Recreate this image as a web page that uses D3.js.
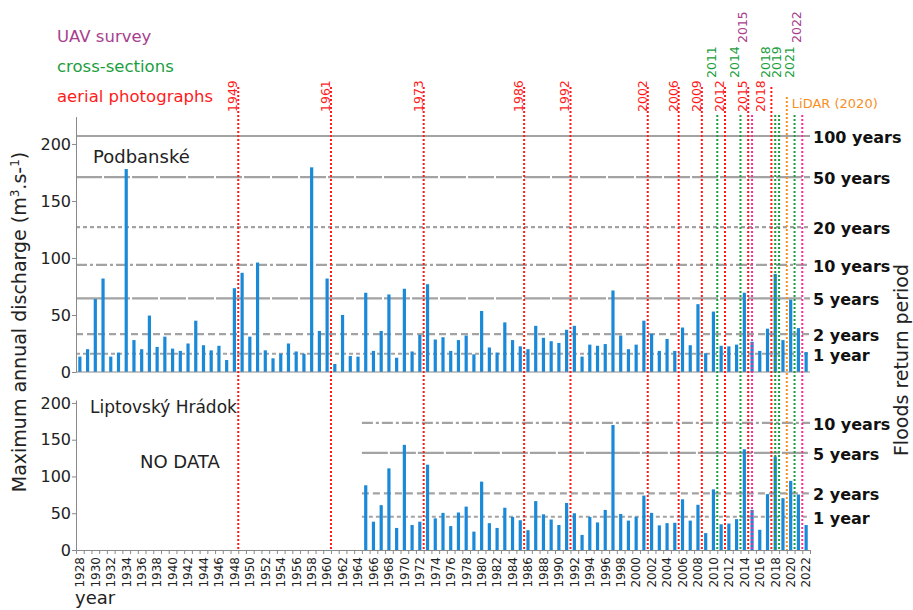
<!DOCTYPE html>
<html>
<head>
<meta charset="utf-8">
<script src="https://cdn.jsdelivr.net/npm/d3@7"></script>
<style>
  html, body { margin: 0; padding: 0; background: #fff; }
  svg { display: block; font-family: "DejaVu Sans", Verdana, sans-serif; }
</style>
</head>
<body>
<script>
// ---- Data -------------------------------------------------------------
const firstYear = 1928;
const lastYear = 2022;
const years = d3.range(firstYear, lastYear + 1);

// Maximum annual discharge, Podbanské (m3/s), 1928–2022
const podbanske = [
  13.5, 20, 64, 82, 13.5, 17, 178, 28, 20, 49.5,
  22, 31, 20.5, 18.5, 25, 45, 23.5, 19, 23, 10.5,
  73.5, 87, 31, 96, 19, 12, 16, 25, 18, 16,
  179.5, 36, 82, 7, 50, 14, 13.5, 69.5, 18.5, 36,
  68, 12.5, 73, 18, 32.5, 77, 28.5, 30.5, 18.5, 28,
  32, 15.5, 53.5, 21.5, 17, 43.5, 28, 22.5, 20, 40.5,
  30, 27, 25.5, 37, 40.5, 13.5, 24, 23, 24.5, 71.5,
  32, 20, 24, 45, 33.5, 18.5, 29, 18.5, 39, 23.5,
  59.5, 16.5, 53, 23, 22.5, 24, 69.5, 26.5, 18.5, 38,
  86, 28, 63.5, 38.5, 17.5
];

// Maximum annual discharge, Liptovský Hrádok (m3/s), 1965–2022
const liptovskyFirstYear = 1965;
const liptovsky = [
  88, 38.5, 61, 111, 30, 143, 34, 38.5, 116, 43,
  50.5, 32.5, 51, 59, 25, 93, 36.5, 30, 57.5, 45,
  40.5, 27, 66.5, 48.5, 41.5, 34, 64, 50, 20.5, 45,
  37.5, 54.5, 170, 49, 40, 45, 74, 50.5, 33.5, 36.5,
  37, 69, 40, 61.5, 23, 82.5, 35, 36, 42, 137,
  54.5, 27.5, 76, 127, 70.5, 94, 75.5, 34
];

// Flood discharges for return periods
const podbanskePeriods = ["100 years", "50 years", "20 years", "10 years", "5 years", "2 years", "1 year"];
const podbanskePeriodQ = [207, 171, 127, 94, 64.5, 33.3, 16];
const liptovskyPeriods = ["10 years", "5 years", "2 years", "1 year"];
const liptovskyPeriodQ = [172.8, 132, 77, 45.2];

// Survey years
const aerialYears = [1949, 1961, 1973, 1986, 1992, 2002, 2006, 2009, 2012, 2015, 2018];
const crossSectionYears = [2011, 2014, 2018, 2019, 2021];
const uavYears = [2015, 2022];
const lidarYears = [2020];

const yTicks = [0, 50, 100, 150, 200];

// ---- Layout -----------------------------------------------------------
const W = 913, H = 610;
const left = 76, right = 810;
const svg = d3.select("body").append("svg").attr("width", W).attr("height", H);

const x = d3.scaleBand().domain(years).range([left, right]).padding(0);
const xEdge = d3.scaleLinear().domain([firstYear, lastYear + 1]).range([left, right]);
const bw = 3.2;

const yTop = d3.scaleLinear().domain([0, 224]).range([372, 116.6]);
const yBot = d3.scaleLinear().domain([0, 204]).range([550, 400]);

const gray = "#a3a3a3";
const axisColor = "#8a8a8a";
const barColor = "#1a8ad8";

const periodStyle = {
  "100 years": { dash: null },
  "50 years": { dash: "26,2" },
  "20 years": { dash: "4,3" },
  "10 years": { dash: "11,3,3,3" },
  "5 years": { dash: "26,2" },
  "2 years": { dash: "7,4" },
  "1 year": { dash: "4,3" }
};

// ---- Return-period lines ----------------------------------------------
function periodLines(labels, values, y, x0) {
  const g = svg.append("g");
  labels.forEach((lab, i) => {
    const yy = y(values[i]);
    g.append("line")
      .attr("x1", x0).attr("x2", right)
      .attr("y1", yy).attr("y2", yy)
      .attr("stroke", gray).attr("stroke-width", 2.2)
      .attr("stroke-dasharray", periodStyle[lab].dash);
    g.append("text")
      .attr("x", right + 3).attr("y", yy + 7)
      .attr("font-size", 16).attr("font-weight", "bold").attr("fill", "#111")
      .text(lab);
  });
}
periodLines(podbanskePeriods, podbanskePeriodQ, yTop, left);
periodLines(liptovskyPeriods, liptovskyPeriodQ, yBot, x(liptovskyFirstYear));

// ---- Bars -------------------------------------------------------------
svg.append("g").selectAll("rect")
  .data(years.map((yr, i) => ({ yr, v: podbanske[i] })))
  .join("rect")
  .attr("x", d => x(d.yr) + x.bandwidth() / 2 - bw / 2)
  .attr("width", bw)
  .attr("y", d => yTop(d.v))
  .attr("height", d => yTop(0) - yTop(d.v))
  .attr("fill", barColor);

svg.append("g").selectAll("rect")
  .data(liptovsky.map((v, i) => ({ yr: liptovskyFirstYear + i, v })))
  .join("rect")
  .attr("x", d => x(d.yr) + x.bandwidth() / 2 - bw / 2)
  .attr("width", bw)
  .attr("y", d => yBot(d.v))
  .attr("height", d => yBot(0) - yBot(d.v))
  .attr("fill", barColor);

// ---- Axes -------------------------------------------------------------
function yAxis(y) {
  const g = svg.append("g").attr("transform", `translate(${left},0)`)
    .call(d3.axisLeft(y).tickValues(yTicks).tickSize(4).tickSizeOuter(0).tickPadding(1));
  g.select(".domain").attr("stroke", axisColor);
  g.selectAll(".tick line").attr("stroke", axisColor);
  g.selectAll(".tick text").attr("font-size", 16).attr("fill", "#222")
    .attr("font-family", "DejaVu Sans, Verdana, sans-serif");
}
yAxis(yTop);
yAxis(yBot);

// category axis lines
svg.append("line").attr("x1", left).attr("x2", right)
  .attr("y1", yTop(0)).attr("y2", yTop(0)).attr("stroke", axisColor);

const xTicks = svg.append("g").attr("transform", `translate(0,${yBot(0)})`)
  .call(d3.axisBottom(xEdge).tickValues(d3.range(firstYear, lastYear + 2)).tickFormat("").tickSize(4).tickSizeOuter(0));
xTicks.select(".domain").attr("stroke", axisColor);
xTicks.selectAll(".tick line").attr("stroke", axisColor);

const xLabels = svg.append("g").attr("transform", `translate(0,${yBot(0)})`)
  .call(d3.axisBottom(x).tickValues(years.filter(d => d % 2 === 0)).tickSize(0));
xLabels.select(".domain").remove();
xLabels.selectAll(".tick text")
  .attr("transform", "rotate(-90)")
  .attr("text-anchor", "end")
  .attr("x", -7).attr("y", 0).attr("dy", "0.36em")
  .attr("font-size", 12).attr("fill", "#222")
  .attr("font-family", "DejaVu Sans, Verdana, sans-serif");

// ---- Survey lines -----------------------------------------------------
const groups = [
  { name: "aerial photographs", years: aerialYears, line: "#ff1a1a", text: "#ff1a1a", top: 87, labelY: 112, legendY: 102 },
  { name: "cross-sections", years: crossSectionYears, line: "#1b9e3e", text: "#1b9e3e", top: 115, labelY: 78, legendY: 72 },
  { name: "UAV survey", years: uavYears, line: "#ff2a98", text: "#a8408e", top: 115, labelY: 43, legendY: 42 }
];
const labelNudge = { "aerial photographs-2018": -5 };
const used = new Set();

groups.forEach(g => {
  const gl = svg.append("g");
  let lastLabelX = -Infinity;
  g.years.forEach(yr => {
    let lx = x(yr);
    if (used.has(yr)) lx += x.bandwidth() / 2;
    used.add(yr);
    gl.append("line")
      .attr("x1", lx).attr("x2", lx).attr("y1", g.top).attr("y2", yBot(0))
      .attr("stroke", g.line).attr("stroke-width", 2).attr("stroke-dasharray", "2,2");
    let tx = x(yr) - 1 + (labelNudge[g.name + "-" + yr] || 0);
    tx = Math.max(tx, lastLabelX + 11);
    lastLabelX = tx;
    gl.append("text")
      .attr("transform", `translate(${tx},${g.labelY}) rotate(-90)`)
      .attr("font-size", 12.5).attr("fill", g.text)
      .text(yr);
  });
  svg.append("text").attr("x", 57).attr("y", g.legendY)
    .attr("font-size", 16.5).attr("fill", g.text).text(g.name);
});

// LiDAR
lidarYears.forEach(yr => {
  const lx = x(yr);
  svg.append("line")
    .attr("x1", lx).attr("x2", lx).attr("y1", 97).attr("y2", yBot(0))
    .attr("stroke", "#f7901e").attr("stroke-width", 2).attr("stroke-dasharray", "2,2");
  svg.append("text").attr("x", lx + 5).attr("y", 108)
    .attr("font-size", 13).attr("fill", "#f7901e").text(`LiDAR (${yr})`);
});

// ---- Titles -----------------------------------------------------------
svg.append("text").attr("x", 93).attr("y", 163).attr("font-size", 18).attr("fill", "#222").text("Podbanské");
svg.append("text").attr("x", 90).attr("y", 413).attr("font-size", 17).attr("fill", "#222").text("Liptovský Hrádok");
svg.append("text").attr("x", 140).attr("y", 468).attr("font-size", 18).attr("fill", "#222").text("NO DATA");
svg.append("text").attr("x", 75).attr("y", 604).attr("font-size", 18).attr("fill", "#222").text("year");

const yl = svg.append("text")
  .attr("transform", "translate(26,322) rotate(-90)")
  .attr("text-anchor", "middle").attr("font-size", 19).attr("fill", "#222");
yl.append("tspan").text("Maximum annual discharge (m");
yl.append("tspan").text("3").attr("font-size", 12).attr("dy", -7);
yl.append("tspan").text(".s-").attr("dy", 7);
yl.append("tspan").text("1").attr("font-size", 12).attr("dy", -7);
yl.append("tspan").text(")").attr("dy", 7);

svg.append("text")
  .attr("transform", "translate(908,360) rotate(-90)")
  .attr("text-anchor", "middle").attr("font-size", 19).attr("fill", "#222")
  .text("Floods return period");
</script>
</body>
</html>
